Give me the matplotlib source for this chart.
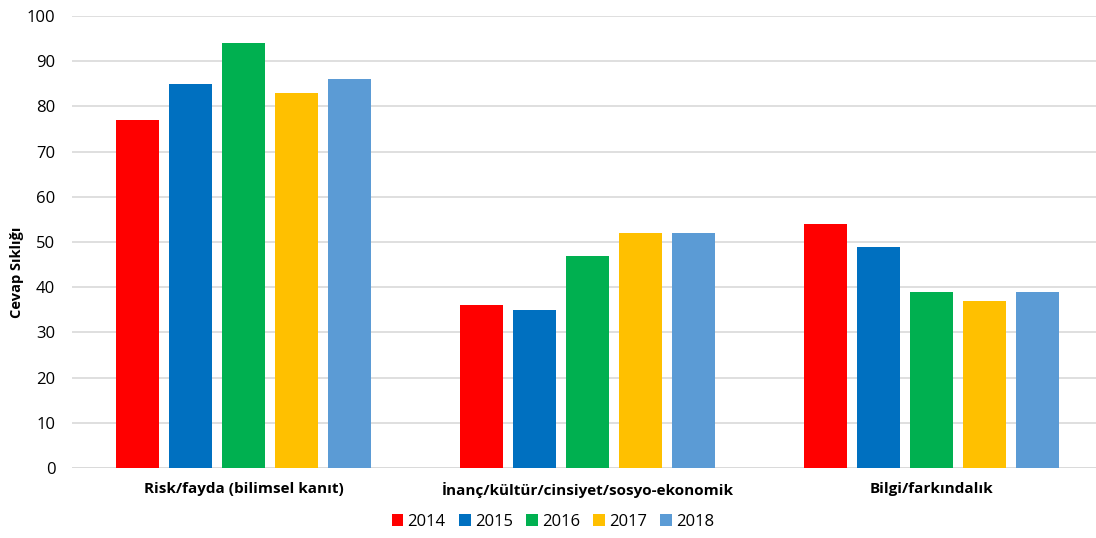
import matplotlib
matplotlib.use("Agg")
import matplotlib.pyplot as plt
import numpy as np

plt.rcParams['font.family'] = ['Open Sans', 'DejaVu Sans']

categories = ["Risk/fayda (bilimsel kanıt)", "İnanç/kültür/cinsiyet/sosyo-ekonomik", "Bilgi/farkındalık"]
years = ["2014", "2015", "2016", "2017", "2018"]
v2014 = [77, 36, 54]
v2015 = [85, 35, 49]
v2016 = [94, 47, 39]
v2017 = [83, 52, 37]
v2018 = [86, 52, 39]
series = [v2014, v2015, v2016, v2017, v2018]
colors = ["#FF0000", "#0070C0", "#00B050", "#FFC000", "#5B9BD5"]

fig = plt.figure(figsize=(10.96, 5.38), dpi=100)
ax = fig.add_axes([72/1096, 1-468/538, 1-72/1096, (468-16)/538])

x = np.arange(len(categories))
pitch = 53/344
width = 43/344
for i, (vals, c, yr) in enumerate(zip(series, colors, years)):
    ax.bar(x + (i-2)*pitch, vals, width=width, color=c, label=yr, zorder=3)

ax.set_ylim(0, 100)
ax.set_xlim(-0.5, 2.477)
ax.set_yticks(range(0, 101, 10))
ax.yaxis.grid(True, color="#D9D9D9", linewidth=1.2, zorder=0)
for s in ax.spines.values():
    s.set_visible(False)
ax.axhline(0, color="#D9D9D9", linewidth=1.2, zorder=1)
ax.tick_params(axis='both', length=0, labelsize=12, colors="black")
ax.tick_params(axis='y', pad=12)
ax.tick_params(axis='x', pad=10)
ax.set_xticks(x)
ax.set_xticklabels(categories, fontweight='bold', fontsize=11)
fig.text(17/1096, 1-272/538, "Cevap Sıklığı", rotation=90, fontweight='bold',
         fontsize=10.5, ha='center', va='center')

handles, labels = ax.get_legend_handles_labels()
fig.legend(handles, labels, loc='center', bbox_to_anchor=(553/1096, 1-522/538), ncol=5,
           frameon=False, fontsize=12, handlelength=0.7, handleheight=0.7,
           handletextpad=0.25, columnspacing=0.8)

fig.savefig("out.png", dpi=100)
